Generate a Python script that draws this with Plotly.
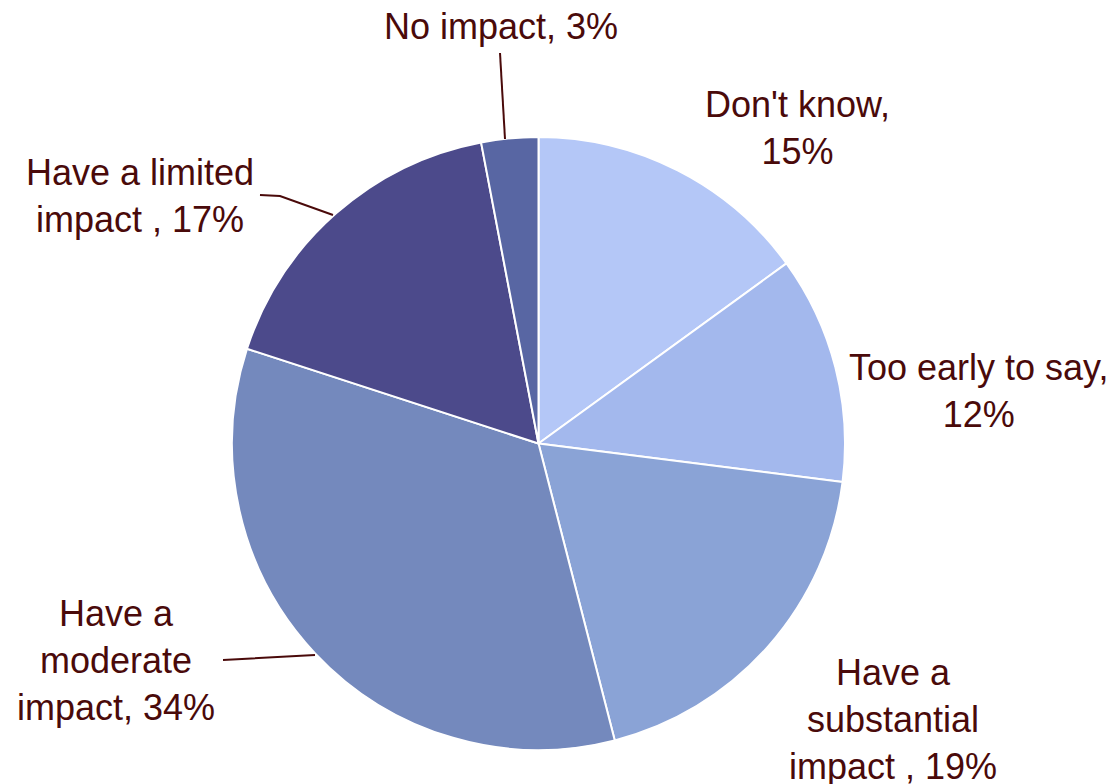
import plotly.graph_objects as go

W, H = 1115, 784

categories = ["Don't know", "Too early to say", "Have a substantial impact",
              "Have a moderate impact", "Have a limited impact", "No impact"]
values = [15, 12, 19, 34, 17, 3]
label_texts = ["Don't know,<br>15%", "Too early to say,<br>12%",
               "Have a<br>substantial<br>impact , 19%",
               "Have a<br>moderate<br>impact, 34%",
               "Have a limited<br>impact , 17%", "No impact, 3%"]
colors = ["#b4c7f7", "#a3b8ed", "#8aa3d6", "#7489bd", "#4c4a8b", "#5866a3"]

# label block centres in pixels
label_pos = [(797, 128), (978, 391), (893, 719), (116, 660), (140, 196), (501, 27)]
# leader lines in pixels
leaders = {
    3: [(223, 660), (242, 659), (315, 655)],
    4: [(260, 195), (280, 196), (333, 215)],
    5: [(500, 53), (505, 139)],
}

def px(x, y):
    return x / W, 1 - y / H

cx, cy, r = 538.5, 443.5, 306.5
x0, y0 = px(cx - r, cy + r)
x1, y1 = px(cx + r, cy - r)

fig = go.Figure(go.Pie(
    labels=categories, values=values, sort=False, direction="clockwise",
    rotation=0, textinfo="none", hoverinfo="label+percent",
    marker=dict(colors=colors, line=dict(color="white", width=2)),
    domain=dict(x=[x0, x1], y=[y0, y1]), showlegend=False,
))

font = dict(family="Liberation Sans, Arial, sans-serif", size=36, color="#4a0a0a")
for t, (x, y) in zip(label_texts, label_pos):
    ax, ay = px(x, y)
    fig.add_annotation(x=ax, y=ay, xref="paper", yref="paper", text=t,
                       showarrow=False, font=font, align="center",
                       xanchor="center", yanchor="middle")

for i, pts in leaders.items():
    p = [px(x, y) for x, y in pts]
    path = "M " + " L ".join(f"{a},{b}" for a, b in p)
    fig.add_shape(type="path", path=path, xref="paper", yref="paper",
                  line=dict(color="#4a0a0a", width=2))

fig.update_layout(width=W, height=H, margin=dict(l=0, r=0, t=0, b=0),
                  paper_bgcolor="white", plot_bgcolor="white")
fig.write_html("out.html")
